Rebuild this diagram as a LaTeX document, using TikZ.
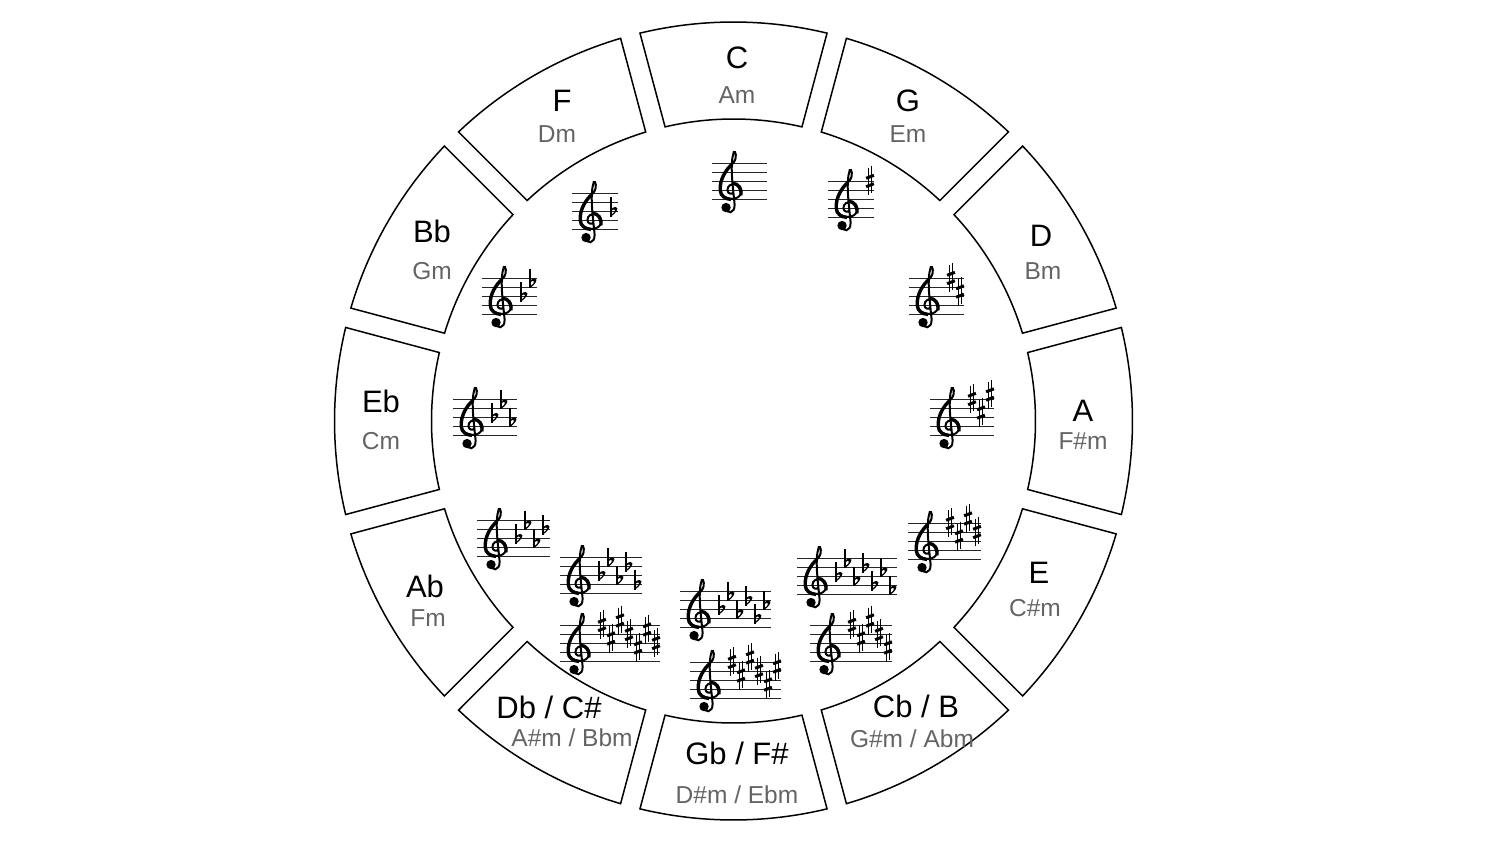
\documentclass[tikz,border=0pt]{standalone}
\usepackage{fontspec}
\setmainfont{Liberation Sans}
\definecolor{cinza}{RGB}{100,100,100}
%Clave de sol: centro x, linha de sol y
\newcommand{\clavesol}[2]{%
  \begin{scope}[shift={({#1},{#2})},x=9pt,y=9pt]
    \draw[tracoclave] (-0.55,-1.95) .. controls (-0.55,-2.7) and (0.45,-2.7) .. (0.4,-1.6)
      .. controls (0.2,0.5) and (-0.15,2.8) .. (0.3,4.2)
      .. controls (0.5,4.45) and (0.75,3.6) .. (0.25,3.0)
      .. controls (-0.6,2.2) and (-1.25,1.2) .. (-1.2,0)
      .. controls (-1.15,-1.25) and (1.1,-1.35) .. (1.15,-0.15)
      .. controls (1.15,0.85) and (-0.35,0.95) .. (-0.4,0)
      .. controls (-0.4,-0.45) and (0.15,-0.5) .. (0.2,-0.3);
    \draw[tracogrosso] (0.1,2.85) .. controls (-0.6,2.2) and (-1.25,1.2) .. (-1.2,0)
      .. controls (-1.17,-0.7) and (-0.6,-1.0) .. (0,-1.05);
    \draw[tracogrosso] (1.1,-0.6) .. controls (1.2,0.2) and (0.8,0.7) .. (0.2,0.75);
    \fill (-0.55,-1.95) circle[radius=0.52];
  \end{scope}}
%Pauta: esquerda, linha de cima, largura
\newcommand{\pauta}[3]{%
  \foreach \k in {0,...,4}
    \draw[linhapauta] (#1,{#2+9*\k}) -- ({#1+#3},{#2+9*\k});
  \clavesol{#1+19}{#2+27}}
%Acidentes
\newcommand{\sustenido}[2]{%
  \draw[haste] ({#1-1.7},{#2-13}) -- ({#1-1.7},{#2+14});
  \draw[haste] ({#1+1.7},{#2-15}) -- ({#1+1.7},{#2+12});
  \draw[barra] ({#1-3.9},{#2-2.7}) -- ({#1+3.9},{#2-5.7});
  \draw[barra] ({#1-3.9},{#2+5.7}) -- ({#1+3.9},{#2+2.7});}
\newcommand{\bemol}[2]{%
  \draw[haste] ({#1-3},{#2-14}) -- ({#1-3},{#2+5.5});
  \fill ({#1-3},{#2+5.5}) .. controls ({#1+6.5},{#2-1}) and ({#1+4.5},{#2-7.5}) .. ({#1-3},{#2-2})
    -- ({#1-3},{#2-0.2}) .. controls ({#1+1.8},{#2-4}) and ({#1+3},{#2+0.5}) .. ({#1-3},{#2+3.6}) -- cycle;}
\newcommand{\sustenidos}[3]{%
  \foreach \p [count=\i] in {8,5,9,6,3,7,4}
    {\ifnum\i>#3\relax\else\sustenido{#1+33+9*\i}{#2+36-4.5*\p}\fi}}
\newcommand{\bemois}[3]{%
  \foreach \p [count=\i] in {4,7,3,6,2,5,1}
    {\ifnum\i>#3\relax\else\bemol{#1+33+9*\i}{#2+36-4.5*\p}\fi}}
\begin{document}
\begin{tikzpicture}[x=1pt,y=-1pt,
    setor/.style={line width=1.5pt},
    linhapauta/.style={line width=1pt,black!85},
    haste/.style={line width=1.3pt},
    barra/.style={line width=3pt},
    tracoclave/.style={line width=2pt},
    tracogrosso/.style={line width=3.4pt},
    maior/.style={font=\fontsize{31}{33}\selectfont},
    menor/.style={font=\fontsize{24.5}{26}\selectfont,text=cinza}] %Inicio do desenho
  \useasboundingbox (0,0) rectangle (1500,843);
    %Setores do circulo
  \begin{scope}[shift={(733.5,421)}]
    \foreach \a in {0,30,...,330}
      \draw[setor] ({\a+15-1.44}:399) arc[start angle={\a+15-1.44},end angle={\a-15+1.44},radius=399]
        -- ({\a-15+1.9}:302) arc[start angle={\a-15+1.9},end angle={\a+15-1.9},radius=302] -- cycle;
  \end{scope}
    %Tonalidades maiores e menores
  \node[maior] (C-maior) at (737,58) {C};
  \node[menor] (C-menor) at (737,95) {Am};
  \node[maior] (G-maior) at (908,101) {G};
  \node[menor] (G-menor) at (908,134) {Em};
  \node[maior] (D-maior) at (1041,236) {D};
  \node[menor] (D-menor) at (1043,271) {Bm};
  \node[maior] (A-maior) at (1083,411) {A};
  \node[menor] (A-menor) at (1083,441) {F\#m};
  \node[maior] (E-maior) at (1039,573) {E};
  \node[menor] (E-menor) at (1035,608) {C\#m};
  \node[maior] (B-maior) at (916,706) {Cb / B};
  \node[menor] (B-menor) at (912,739) {G\#m / Abm};
  \node[maior] (Fs-maior) at (737,753) {Gb / F\#};
  \node[menor] (Fs-menor) at (737,795) {D\#m / Ebm};
  \node[maior] (Cs-maior) at (549,707) {Db / C\#};
  \node[menor] (Cs-menor) at (572,738) {A\#m / Bbm};
  \node[maior] (Ab-maior) at (425,586) {Ab};
  \node[menor] (Ab-menor) at (428,618) {Fm};
  \node[maior] (Eb-maior) at (381,401) {Eb};
  \node[menor] (Eb-menor) at (381,441) {Cm};
  \node[maior] (Bb-maior) at (432,231) {Bb};
  \node[menor] (Bb-menor) at (432,271) {Gm};
  \node[maior] (F-maior) at (562,101) {F};
  \node[menor] (F-menor) at (557,134) {Dm};
    %Armaduras de clave
  \pauta{712}{163}{55} %C
  \pauta{828}{181}{46} \sustenidos{828}{181}{1} %G
  \pauta{909}{278}{55} \sustenidos{909}{278}{2} %D
  \pauta{930}{399}{64} \sustenidos{930}{399}{3} %A
  \pauta{908}{523}{73} \sustenidos{908}{523}{4} %E
  \pauta{810}{625}{82} \sustenidos{810}{625}{5} %B
  \pauta{690}{662}{91} \sustenidos{690}{662}{6} %F#
  \pauta{560}{625}{100} \sustenidos{560}{625}{7} %C#
  \pauta{797}{558}{100} \bemois{797}{558}{7} %Cb
  \pauta{680}{591}{91} \bemois{680}{591}{6} %Gb
  \pauta{560}{557}{82} \bemois{560}{557}{5} %Db
  \pauta{477}{520}{73} \bemois{477}{520}{4} %Ab
  \pauta{453}{399}{64} \bemois{453}{399}{3} %Eb
  \pauta{482}{278}{55} \bemois{482}{278}{2} %Bb
  \pauta{572}{193}{46} \bemois{572}{193}{1} %F
\end{tikzpicture}
\end{document}
